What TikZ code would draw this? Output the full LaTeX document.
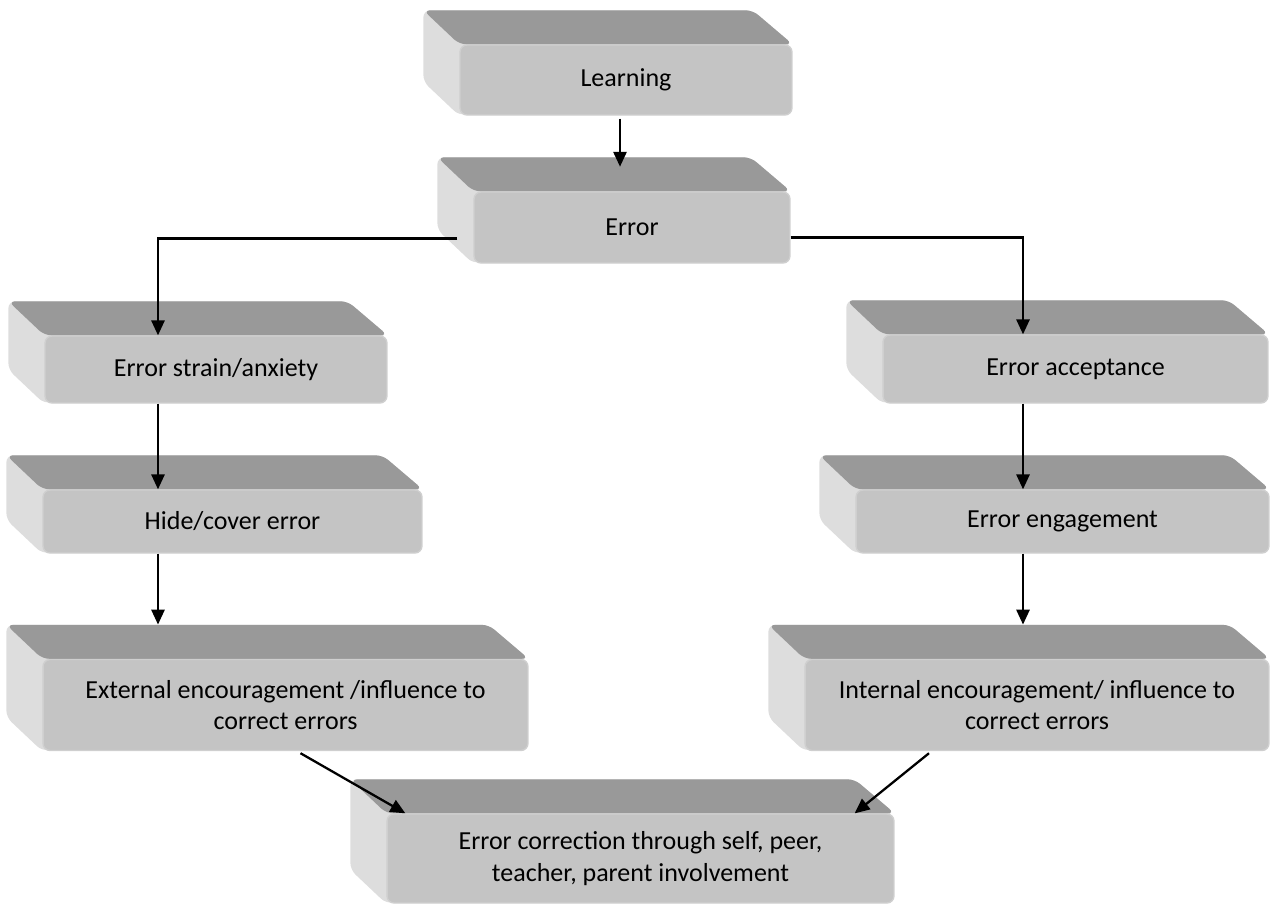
\documentclass[tikz,border=0pt]{standalone}
\usepackage{fontspec}
\setmainfont{Carlito}
\usepackage{tikz}
\usetikzlibrary{arrows.meta}
\usetikzlibrary{calc,backgrounds}
\definecolor{slabfront}{HTML}{C4C4C4}
\definecolor{slabtop}{HTML}{999999}
\definecolor{slabside}{HTML}{DDDDDD}
\definecolor{slabrim}{HTML}{CFCFCF}

\begin{document}
\begin{tikzpicture}[x=0.02cm, y=-0.02cm,
  slab/.style={fill=slabfront, draw=slabrim, line width=0.8pt, rounded corners=4pt, inner sep=0pt, align=center, font=\fontsize{14.8}{18}\selectfont},
  link/.style={black, line width=1.3pt, -{Triangle[length=8.5pt,width=7.5pt]}}]
\useasboundingbox (0,0) rectangle (1270,904);
% front faces
\node[slab, minimum width=6.64cm, minimum height=1.40cm] (learn) at (626,80) {Learning};
\node[slab, minimum width=6.32cm, minimum height=1.42cm] (err) at (632,227.5) {Error};
\node[slab, minimum width=6.84cm, minimum height=1.34cm] (strain) at (216,369.5) {Error strain/anxiety};
\node[slab, minimum width=7.58cm, minimum height=1.26cm] (hide) at (232.5,521.5) {Hide/cover error};
\node[slab, minimum width=9.70cm, minimum height=1.82cm] (ext) at (285.5,705) {External encouragement /influence to\\correct errors};
\node[slab, minimum width=7.70cm, minimum height=1.36cm] (accept) at (1075.5,369) {Error acceptance};
\node[slab, minimum width=8.26cm, minimum height=1.26cm] (engage) at (1062.5,521.5) {Error engagement};
\node[slab, minimum width=9.28cm, minimum height=1.82cm] (intern) at (1037,705) {Internal encouragement/ influence to\\correct errors};
\node[slab, minimum width=10.14cm, minimum height=1.78cm] (corr) at (640.5,858.5) {Error correction through self, peer,\\teacher, parent involvement};
% top and side faces behind
\begin{scope}[on background layer]
\foreach \n in {learn,err,strain,hide,ext,accept,engage,intern,corr} {
  \fill[slabside, rounded corners=4pt] ($(\n.north west)+(-36,-34)$) -- ($(\n.north east)+(-40,-34)$) -- (\n.north east) -- (\n.south west) -- ($(\n.south west)+(-36,-34)$) -- cycle;
  \fill[slabtop, rounded corners=4pt] ($(\n.north west)+(-36,-34)$) -- ($(\n.north east)+(-40,-34)$) -- (\n.north east) -- (\n.north west) -- cycle;
}
\end{scope}
% columns of the two branches
\coordinate (lcol) at (158,0);
\coordinate (rcol) at (1023,0);
\draw[link, shorten >=14pt] ([shift={(-6,3)}]learn.south) -- ([shift={(-6,0)}]learn.south |- err.north);
\draw[link] ([shift={(-16,11)}]err.west) -| (strain.north -| lcol);
\draw[link] ([shift={(0,10)}]err.east) -| (accept.north -| rcol);
\draw[link] (strain.south -| lcol) -- (hide.north -| lcol);
\draw[link, shorten >=19.5pt] (hide.south -| lcol) -- (ext.north -| lcol);
\draw[link] (accept.south -| rcol) -- (engage.north -| rcol);
\draw[link, shorten >=19.5pt] (engage.south -| rcol) -- (intern.north -| rcol);
\draw[link] ([shift={(15,2)}]ext.south) -- ([shift={(19,0)}]corr.north west);
\draw[link] ([shift={(-108,2)}]intern.south) -- ([shift={(-40,0)}]corr.north east);
\end{tikzpicture}
\end{document}
